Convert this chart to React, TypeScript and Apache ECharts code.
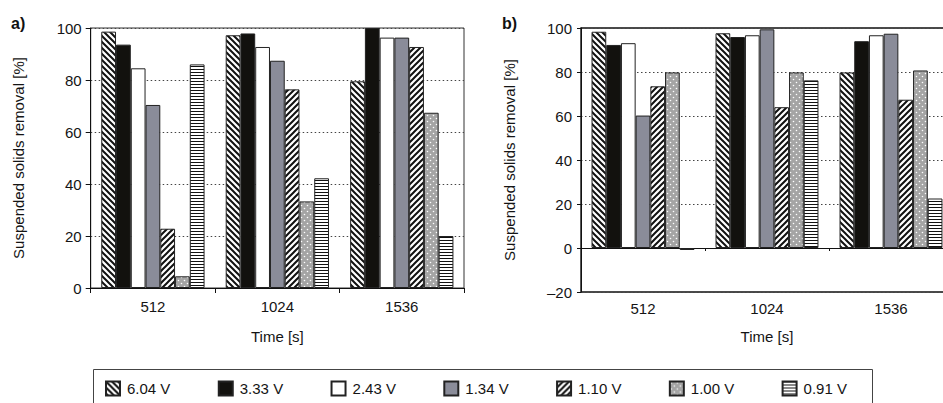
import React, { useEffect, useRef } from 'react';
import * as echarts from 'echarts';

// ---------- data ----------
const categories = ['512', '1024', '1536'];
const voltages = ['6.04 V', '3.33 V', '2.43 V', '1.34 V', '1.10 V', '1.00 V', '0.91 V'];
const yTicksA = [0, 20, 40, 60, 80, 100];
const yTicksB = [-20, 0, 20, 40, 60, 80, 100];

// panel a) suspended solids removal [%] at 512 / 1024 / 1536 s
const panelA604 = [98.6, 97.2, 79.5];
const panelA333 = [93.6, 97.9, 100];
const panelA243 = [84.5, 92.7, 96.3];
const panelA134 = [70.4, 87.4, 96.3];
const panelA110 = [22.8, 76.4, 92.7];
const panelA100 = [4.5, 33.3, 67.4];
const panelA091 = [86.0, 42.2, 20.0];

// panel b)
const panelB604 = [98.3, 97.6, 79.8];
const panelB333 = [92.3, 95.9, 94.0];
const panelB243 = [93.1, 96.7, 96.7];
const panelB134 = [60.2, 99.4, 97.4];
const panelB110 = [73.5, 64.0, 67.4];
const panelB100 = [79.8, 79.8, 80.7];
const panelB091 = [-0.9, 76.2, 22.5];

const panelA = [panelA604, panelA333, panelA243, panelA134, panelA110, panelA100, panelA091];
const panelB = [panelB604, panelB333, panelB243, panelB134, panelB110, panelB100, panelB091];

const FONT = '"Liberation Sans", Arial, Helvetica, sans-serif';
const TEXT = '#141414';

function makeTile(kind: string): any {
  const c = document.createElement('canvas');
  let w = 6;
  let h = 6;
  if (kind === 'hlines') { w = 4; h = 3; }
  c.width = w;
  c.height = h;
  const ctx = c.getContext('2d') as CanvasRenderingContext2D;
  if (kind === 'dots') {
    ctx.fillStyle = '#a4a4a4';
    ctx.fillRect(0, 0, w, h);
    ctx.fillStyle = '#ffffff';
    ctx.beginPath();
    ctx.arc(1.5, 1.5, 0.8, 0, Math.PI * 2);
    ctx.arc(4.5, 4.5, 0.8, 0, Math.PI * 2);
    ctx.fill();
  } else if (kind === 'hlines') {
    ctx.fillStyle = '#ffffff';
    ctx.fillRect(0, 0, w, h);
    ctx.fillStyle = '#111111';
    ctx.fillRect(0, 0, w, 1);
  } else {
    ctx.fillStyle = '#ffffff';
    ctx.fillRect(0, 0, w, h);
    ctx.strokeStyle = '#111111';
    ctx.lineWidth = 2;
    ctx.beginPath();
    for (const off of [-w, 0, w]) {
      if (kind === 'back') {
        ctx.moveTo(off - 1, -1);
        ctx.lineTo(off + w + 1, h + 1);
      } else {
        ctx.moveTo(off - 1, h + 1);
        ctx.lineTo(off + w + 1, -1);
      }
    }
    ctx.stroke();
  }
  return { image: c, repeat: 'repeat', imageWidth: w, imageHeight: h };
}

export default function App() {
  const ref = useRef<HTMLDivElement>(null);

  useEffect(() => {
    if (!ref.current) return;
    const chart = echarts.init(ref.current, undefined, { renderer: 'svg' });

    const fills: any[] = [
      makeTile('back'),
      '#12110e',
      '#ffffff',
      '#8a8c99',
      makeTile('fwd'),
      makeTile('dots'),
      makeTile('hlines'),
    ];

    const labelStyle = { fontSize: 15, color: TEXT, fontFamily: FONT };
    const splitLine = { show: true, lineStyle: { type: [1.5, 2.5] as any, color: '#444', width: 1 } };

    const mkSeries = (data: number[][], axisX: number, axisY: number) =>
      voltages.map((name, i) => ({
        type: 'bar',
        name,
        xAxisIndex: axisX,
        yAxisIndex: axisY,
        data: data[i],
        barGap: '0%',
        barCategoryGap: '17%',
        itemStyle: { color: fills[i], borderColor: '#222', borderWidth: 1 },
        emphasis: { disabled: true },
      }));

    const option: any = {
      animation: false,
      textStyle: { fontFamily: FONT },
      grid: [
        { left: 90.7, top: 28, width: 373.3, height: 260, show: true, borderColor: '#333', borderWidth: 1, backgroundColor: 'transparent', outerBoundsMode: 'none', containLabel: false },
        { left: 581, top: 28, width: 372, height: 264, show: true, borderColor: '#111', borderWidth: 1.4, backgroundColor: 'transparent', outerBoundsMode: 'none', containLabel: false },
      ],
      xAxis: [
        {
          gridIndex: 0, type: 'category', data: categories, position: 'bottom',
          axisLine: { show: true, onZero: true, lineStyle: { color: '#111', width: 1 } },
          axisTick: { show: true, length: 5, lineStyle: { color: '#111' } },
          axisLabel: { ...labelStyle, margin: 11 },
          name: 'Time [s]', nameLocation: 'middle', nameGap: 41, nameTextStyle: labelStyle,
        },
        {
          gridIndex: 1, type: 'category', data: categories, position: 'bottom',
          axisLine: { show: false, onZero: false },
          axisTick: { show: false },
          axisLabel: { ...labelStyle, margin: 9 },
          name: 'Time [s]', nameLocation: 'middle', nameGap: 37, nameTextStyle: labelStyle,
        },
        {
          gridIndex: 1, type: 'category', data: categories, position: 'bottom',
          axisLine: { show: true, onZero: true, lineStyle: { color: '#111', width: 1 } },
          axisTick: { show: true, length: 3, lineStyle: { color: '#111' } },
          axisLabel: { show: false },
        },
      ],
      yAxis: [
        {
          gridIndex: 0, type: 'value', min: yTicksA[0], max: yTicksA[yTicksA.length - 1], interval: 20,
          axisLine: { show: true, lineStyle: { color: '#111', width: 1 } },
          axisTick: { show: true, length: 5, lineStyle: { color: '#111' } },
          axisLabel: { ...labelStyle, margin: 9 },
          splitLine,
          name: 'Suspended solids removal [%]', nameLocation: 'middle', nameRotate: 90, nameGap: 65,
          nameTextStyle: labelStyle,
        },
        {
          gridIndex: 1, type: 'value', min: yTicksB[0], max: yTicksB[yTicksB.length - 1], interval: 20,
          axisLine: { show: true, onZero: false, lineStyle: { color: '#111', width: 1 } },
          axisTick: { show: true, length: 4, lineStyle: { color: '#111' } },
          axisLabel: { ...labelStyle, margin: 9, formatter: (v: number) => (v < 0 ? '\u2013' + Math.abs(v) : String(v)) },
          splitLine,
          name: 'Suspended solids removal [%]', nameLocation: 'middle', nameRotate: 90, nameGap: 64,
          nameTextStyle: labelStyle,
        },
      ],
      legend: {
        data: voltages,
        left: 93,
        top: 369,
        orient: 'horizontal',
        icon: 'rect',
        itemWidth: 14,
        itemHeight: 14,
        itemGap: 47.4,
        padding: [11.5, 0, 0, 12],
        borderWidth: 0,
        selectedMode: false,
        textStyle: { fontSize: 15, color: TEXT, fontFamily: FONT, padding: [0, 0, 0, 2] },
      },
      graphic: [
        { type: 'rect', shape: { x: 93.5, y: 369.5, width: 779, height: 60 }, style: { fill: 'none', stroke: '#444', lineWidth: 1 }, silent: true },
        { type: 'text', left: 11, top: 15, style: { text: 'a)', font: `bold 16px ${FONT}`, fill: '#111' } },
        { type: 'text', left: 502, top: 15, style: { text: 'b)', font: `bold 16px ${FONT}`, fill: '#111' } },
      ],
      series: [...mkSeries(panelA, 0, 0), ...mkSeries(panelB, 1, 1)],
    };

    chart.setOption(option);
    return () => chart.dispose();
  }, []);

  return (
    <div
      ref={ref}
      style={{ position: 'absolute', left: 0, top: 0, width: 943, height: 403, background: '#fff' }}
    />
  );
}
